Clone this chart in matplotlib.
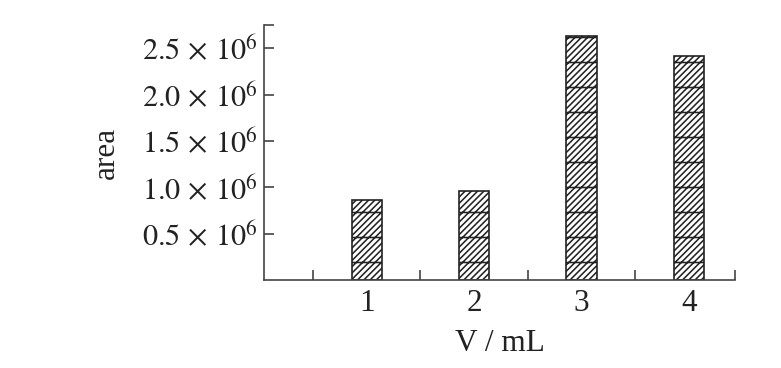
import matplotlib
matplotlib.use('Agg')
import matplotlib.pyplot as plt
from matplotlib.ticker import FuncFormatter, FixedLocator

# data
volumes = [1, 2, 3, 4]
areas = [0.868e6, 0.961e6, 2.628e6, 2.419e6]
y_ticks = [0.5e6, 1.0e6, 1.5e6, 2.0e6, 2.5e6]

plt.rcParams['font.family'] = ['Liberation Serif', 'DejaVu Serif']
plt.rcParams['mathtext.fontset'] = 'stix'
plt.rcParams['hatch.linewidth'] = 0.75
plt.rcParams['hatch.color'] = '#222222'

DPI = 150
fig = plt.figure(figsize=(782 / DPI, 368 / DPI), dpi=DPI)
ax = fig.add_axes([264 / 782, 1 - 280 / 368, (735 - 264) / 782, (280 - 25) / 368])

ax.bar(volumes, areas, width=0.28, color='white', edgecolor='#222222',
       linewidth=0.8, hatch='////////-')

ax.set_xlim(0.043, 4.43)
ax.set_ylim(0, 2.75e6)

for s in ['top', 'right']:
    ax.spines[s].set_visible(False)
for s in ['left', 'bottom']:
    ax.spines[s].set_color('#444444')
    ax.spines[s].set_linewidth(0.8)

ax.set_xticks(volumes)
ax.set_xticklabels([str(v) for v in volumes])
ax.xaxis.set_minor_locator(FixedLocator([0.5, 1.5, 2.5, 3.5, 4.43]))
ax.tick_params(axis='x', which='major', length=0, pad=4.5, labelsize=15,
               labelcolor='#222222')
ax.tick_params(axis='x', which='minor', direction='in', length=4.8,
               width=0.8, color='#444444')

ax.set_yticks(y_ticks)
ax.yaxis.set_major_formatter(FuncFormatter(lambda v, p: r'$%.1f\,\times\,10^{6}$' % (v / 1e6)))
ax.yaxis.set_minor_locator(FixedLocator([2.75e6]))
ax.tick_params(axis='y', which='both', direction='in', length=4.8, width=0.8,
               color='#444444', pad=3, labelsize=14.5, labelcolor='#222222')

ax.set_xlabel('V / mL', fontsize=15, color='#222222', labelpad=5)
ax.set_ylabel('area', fontsize=15, color='#222222', labelpad=10)

fig.savefig('out.png', dpi=DPI)
